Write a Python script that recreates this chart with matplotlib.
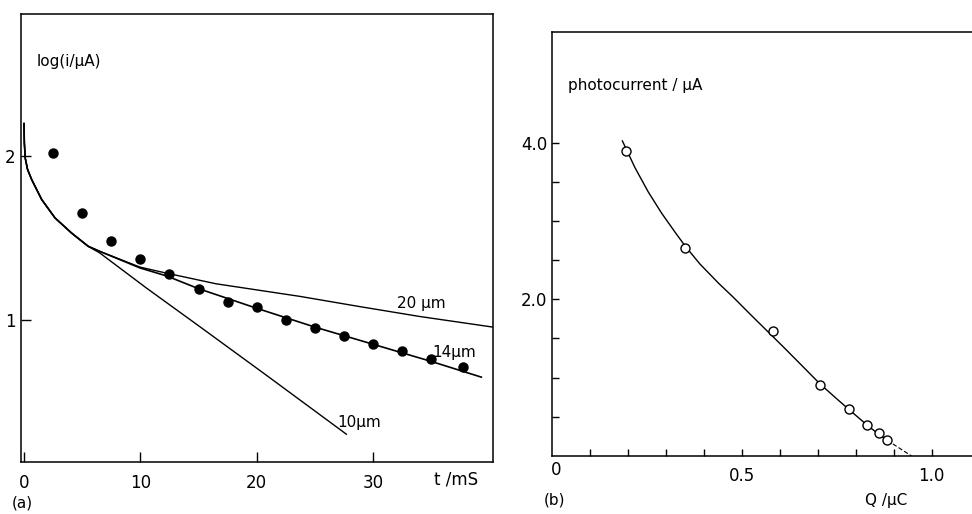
import matplotlib
matplotlib.use("Agg")
import matplotlib.pyplot as plt
import numpy as np

plt.rcParams['font.family'] = ['DejaVu Sans']
plt.rcParams['font.size'] = 11

# (a) current decay, log(i/uA) vs t/ms
t_dots = [2.5, 5, 7.5, 10, 12.5, 15, 17.5, 20, 22.5, 25, 27.5, 30, 32.5, 35, 37.7]
logi_dots = [2.02, 1.65, 1.48, 1.37, 1.28, 1.19, 1.11, 1.08, 1.00, 0.95,
             0.90, 0.85, 0.81, 0.76, 0.71]

t_common = [0, 0.03, 0.1, 0.3, 0.66, 1.52, 2.66, 4.09, 5.52]
logi_common = [2.2, 2.08, 1.99, 1.92, 1.857, 1.735, 1.623, 1.53, 1.449]

t_10 = t_common + [6.52, 10.5, 15.1, 20.8, 27.7]
logi_10 = logi_common + [1.408, 1.195, 0.958, 0.662, 0.30]

t_14 = t_common + [6.52, 9.96, 12.25, 15, 20, 25, 30, 35, 39.3]
logi_14 = logi_common + [1.418, 1.317, 1.268, 1.19, 1.07, 0.955, 0.85, 0.745, 0.649]

t_20 = t_common + [6.52, 9.96, 12.25, 16.5, 23.7, 28.8, 34, 40.3]
logi_20 = logi_common + [1.418, 1.322, 1.285, 1.22, 1.143, 1.081, 1.02, 0.955]

# (b) photocurrent vs charge
q_pts = [0.196, 0.351, 0.583, 0.706, 0.783, 0.831, 0.86, 0.882]
i_pts = [3.89, 2.66, 1.60, 0.91, 0.60, 0.40, 0.29, 0.20]

q_fit = [0.186, 0.219, 0.254, 0.289, 0.324, 0.351, 0.39, 0.44, 0.478, 0.52,
         0.566, 0.61, 0.653, 0.706, 0.75, 0.783, 0.831, 0.86, 0.883]
i_fit = [4.02, 3.68, 3.37, 3.10, 2.86, 2.68, 2.45, 2.20, 2.025, 1.82,
         1.60, 1.39, 1.18, 0.92, 0.73, 0.59, 0.39, 0.28, 0.20]
q_ext = [0.883, 0.947]
i_ext = [0.20, 0.0]

W, H = 972, 514
fig = plt.figure(figsize=(W / 100, H / 100), dpi=100)

def px_box(x0, y0, x1, y1):
    return [x0 / W, 1 - y1 / H, (x1 - x0) / W, (y1 - y0) / H]

# ---- panel (a)
ax1 = fig.add_axes(px_box(21, 14, 493, 462))
ax1.plot(t_10, logi_10, color='black', lw=1.0)
ax1.plot(t_20, logi_20, color='black', lw=1.0)
ax1.plot(t_14, logi_14, color='black', lw=1.2)
ax1.plot(t_dots, logi_dots, 'o', color='black', ms=6.5)
ax1.set_xlim(-0.26, 40.3)
ax1.set_ylim(0.13, 2.87)
ax1.set_xticks([0, 10, 20, 30])
ax1.set_yticks([1, 2])
ax1.tick_params(axis='x', direction='in', length=7, width=1, pad=9, labelsize=12)
ax1.tick_params(axis='y', direction='in', length=7, width=1, pad=4, labelsize=12)
for s in ax1.spines.values():
    s.set_linewidth(1.1)

ax1.text(1.1, 2.58, 'log(i/µA)', ha='left', va='center', fontsize=11)
ax1.text(34.1, 1.10, '20 µm', ha='center', va='center', fontsize=11)
ax1.text(37.0, 0.80, '14µm', ha='center', va='center', fontsize=11)
ax1.text(28.8, 0.37, '10µm', ha='center', va='center', fontsize=11)
fig.text(456 / W, 1 - 480 / H, 't /mS', ha='center', va='center', fontsize=12)
fig.text(22 / W, 1 - 503 / H, '(a)', ha='center', va='center', fontsize=11)

# ---- panel (b)
ax2 = fig.add_axes(px_box(551.7, 32, 972, 456))
ax2.plot(q_fit, i_fit, color='black', lw=1.0)
ax2.plot(q_ext, i_ext, color='black', lw=0.8, ls=(0, (4, 2)))
ax2.plot(q_pts, i_pts, 'o', mfc='white', mec='black', mew=1.0, ms=6.5)
ax2.set_xlim(0, 1.106)
ax2.set_ylim(0, 5.41)
ax2.set_xticks(np.arange(0.1, 1.05, 0.1))
ax2.set_xticklabels(['', '', '', '', '0.5', '', '', '', '', '1.0'])
ax2.set_yticks([0.5, 1.0, 1.5, 2.0, 2.5, 3.0, 3.5, 4.0])
ax2.set_yticklabels(['', '', '', '2.0', '', '', '', '4.0'])
ax2.tick_params(axis='x', direction='in', length=5, width=1, pad=8, labelsize=12)
ax2.tick_params(axis='y', direction='in', length=5, width=1, pad=3, labelsize=12)
ax2.spines['right'].set_visible(False)
for s in ax2.spines.values():
    s.set_linewidth(1.1)

ax2.text(0.043, 4.73, 'photocurrent / µA', ha='left', va='center', fontsize=11)
fig.text(556 / W, 1 - 470 / H, '0', ha='center', va='center', fontsize=12)
fig.text(886 / W, 1 - 500 / H, 'Q /µC', ha='center', va='center', fontsize=11)
fig.text(554 / W, 1 - 500 / H, '(b)', ha='center', va='center', fontsize=11)

fig.savefig('out.png', dpi=100)
